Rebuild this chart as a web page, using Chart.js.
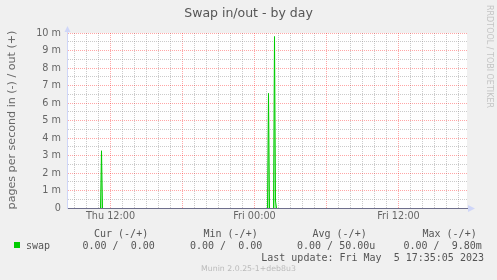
<!DOCTYPE html>
<html>
<head>
<meta charset="utf-8">
<title>Swap in/out - by day</title>
<script src="https://cdn.jsdelivr.net/npm/chart.js@4/dist/chart.umd.min.js"></script>
<style>
  html, body { margin: 0; padding: 0; }
  body { width: 497px; height: 280px; background: #f0f0f0; position: relative; overflow: hidden;
         font-family: "DejaVu Sans", sans-serif; color: #666; }
  #chart { position: absolute; left: 0; top: 0; }
  .txt { position: absolute; white-space: pre; }
  .mono { font-family: "DejaVu Sans Mono", monospace; font-size: 10px; line-height: 12px; color: #555; }
</style>
</head>
<body>
<canvas id="chart" width="497" height="280"></canvas>
<div id="legend"></div>

<script>
// samples (5 minute steps), value in milli pages/s
const sampleTimes = ['Thu 11:10', 'Thu 11:15', 'Thu 11:20', 'Thu 11:25',
                     'Fri 01:05', 'Fri 01:10', 'Fri 01:15', 'Fri 01:20',
                     'Fri 01:35', 'Fri 01:40', 'Fri 01:45', 'Fri 01:50'];
const swapOut = [0, 3.27, 0, null,
                 0, 6.55, 0, null,
                 0, 9.80, 0.4, 0];

const rangeStart = 'Thu 08:22:30';
const rangeEnd = 'Fri 17:42:30';

const xLabelTimes = ['Thu 12:00', 'Fri 00:00', 'Fri 12:00'];
const yTickLabels = ['0', '1 m', '2 m', '3 m', '4 m', '5 m', '6 m', '7 m', '8 m', '9 m', '10 m'];

const legendHeads = ['Cur (-/+)', 'Min (-/+)', 'Avg (-/+)', 'Max (-/+)'];
const legendValues = ['0.00 /  0.00', '0.00 /  0.00', '0.00 / 50.00u', '0.00 /  9.80m'];
const seriesName = 'swap';
const lastUpdate = 'Last update: Fri May  5 17:35:05 2023';

// 'Fri 01:10' -> hours since Thursday 00:00
function toHours(s) {
  const [day, clock] = s.split(' ');
  const p = clock.split(':').map(Number);
  return (day === 'Fri' ? 24 : 0) + p[0] + p[1] / 60 + (p[2] || 0) / 3600;
}

const points = sampleTimes.map((t, i) => ({ x: toHours(t), y: swapOut[i] }));
const xLabelHours = xLabelTimes.map(toHours);

const red = 'rgba(255,0,0,0.35)';
const gray = 'rgba(140,140,140,0.45)';

const canvasBg = {
  id: 'canvasBg',
  beforeDraw(chart) {
    const { ctx, chartArea: a } = chart;
    ctx.save();
    ctx.fillStyle = '#ffffff';
    ctx.fillRect(a.left, a.top, a.right - a.left, a.bottom - a.top);
    ctx.restore();
  }
};

const arrows = {
  id: 'arrows',
  afterDraw(chart) {
    const { ctx, chartArea: a } = chart;
    ctx.save();
    ctx.strokeStyle = '#cfd6f8';
    ctx.fillStyle = '#cfd6f8';
    ctx.beginPath();
    ctx.moveTo(a.left + 0.5, a.top);
    ctx.lineTo(a.left + 0.5, a.top - 4);
    ctx.stroke();
    ctx.beginPath();
    ctx.moveTo(a.left - 2.5, a.top - 1);
    ctx.lineTo(a.left + 0.5, a.top - 7);
    ctx.lineTo(a.left + 3.5, a.top - 1);
    ctx.fill();
    ctx.beginPath();
    ctx.moveTo(a.right + 1, a.bottom - 3);
    ctx.lineTo(a.right + 8, a.bottom + 0.5);
    ctx.lineTo(a.right + 1, a.bottom + 4);
    ctx.fill();
    ctx.restore();
  }
};

new Chart(document.getElementById('chart'), {
  type: 'line',
  data: {
    datasets: [{
      label: seriesName,
      data: points,
      borderColor: '#00cc00',
      backgroundColor: 'rgba(0,204,0,0.35)',
      borderWidth: 1,
      fill: 'origin',
      pointRadius: 0,
      tension: 0,
      spanGaps: false
    }]
  },
  options: {
    responsive: false,
    animation: false,
    devicePixelRatio: 1,
    layout: { padding: { left: 0, top: 33, right: 30, bottom: 0 } },
    plugins: { legend: { display: false }, title: { display: false }, tooltip: { enabled: false } },
    scales: {
      x: {
        type: 'linear',
        min: toHours(rangeStart),
        max: toHours(rangeEnd),
        afterFit: s => { s.height = 72; },
        border: { color: '#6e6e8c', width: 1, dash: [1, 1] },
        grid: {
          drawTicks: false,
          color: c => (c.tick && c.tick.value % 6 === 0 ? red : gray)
        },
        ticks: {
          stepSize: 1,
          includeBounds: false,
          autoSkip: false,
          maxRotation: 0,
          padding: 3,
          color: '#666',
          font: { family: 'DejaVu Sans', size: 9.7 },
          callback: v => {
            const i = xLabelHours.indexOf(v);
            return i >= 0 ? xLabelTimes[i] : '';
          }
        }
      },
      y: {
        min: 0,
        max: 10,
        afterFit: s => { s.width = 67; },
        border: { color: '#cfd6f8', width: 1, dash: [1, 1] },
        grid: {
          drawTicks: false,
          color: c => (c.tick && Number.isInteger(c.tick.value) ? red : gray)
        },
        ticks: {
          stepSize: 0.5,
          autoSkip: false,
          padding: 6,
          color: '#666',
          font: { family: 'DejaVu Sans', size: 9.7 },
          callback: v => (Number.isInteger(v) ? yTickLabels[v] : '')
        }
      }
    }
  },
  plugins: [canvasBg, arrows]
});

// text around the graph
const lg = document.getElementById('legend');
function addText(text, style, cls) {
  const d = document.createElement('div');
  d.className = 'txt' + (cls ? ' ' + cls : '');
  d.textContent = text;
  Object.assign(d.style, style);
  lg.appendChild(d);
  return d;
}

addText('Swap in/out - by day', { left: '0', width: '497px', top: '5px', textAlign: 'center',
  fontSize: '12.5px', lineHeight: '16px', color: '#555' });
addText('pages per second in (-) / out (+)', { left: '-108px', top: '113px', width: '240px', height: '14px',
  textAlign: 'center', fontSize: '11.1px', lineHeight: '14px', transform: 'rotate(-90deg)' });
addText('RRDTOOL / TOBI OETIKER', { left: '484px', top: '5px', fontSize: '8px', lineHeight: '10px',
  writingMode: 'vertical-rl', color: '#c4c4c4' });

const headLeft = [94, 203.5, 312.5, 422.5];
const valueLeft = [82.5, 190, 297, 403.5];
legendHeads.forEach((t, i) => addText(t, { left: headLeft[i] + 'px', top: '228px' }, 'mono'));
legendValues.forEach((t, i) => addText(t, { left: valueLeft[i] + 'px', top: '240px' }, 'mono'));
addText(seriesName, { left: '26px', top: '240px' }, 'mono');
const sq = addText('', { left: '14px', top: '242px', width: '6px', height: '6px', background: '#00cc00' });
addText(lastUpdate, { right: '13px', top: '252px' }, 'mono');
addText('Munin 2.0.25-1+deb8u3', { left: '0', width: '497px', top: '264px', textAlign: 'center',
  fontSize: '7.8px', lineHeight: '10px', color: '#bbb' });
</script>
</body>
</html>
